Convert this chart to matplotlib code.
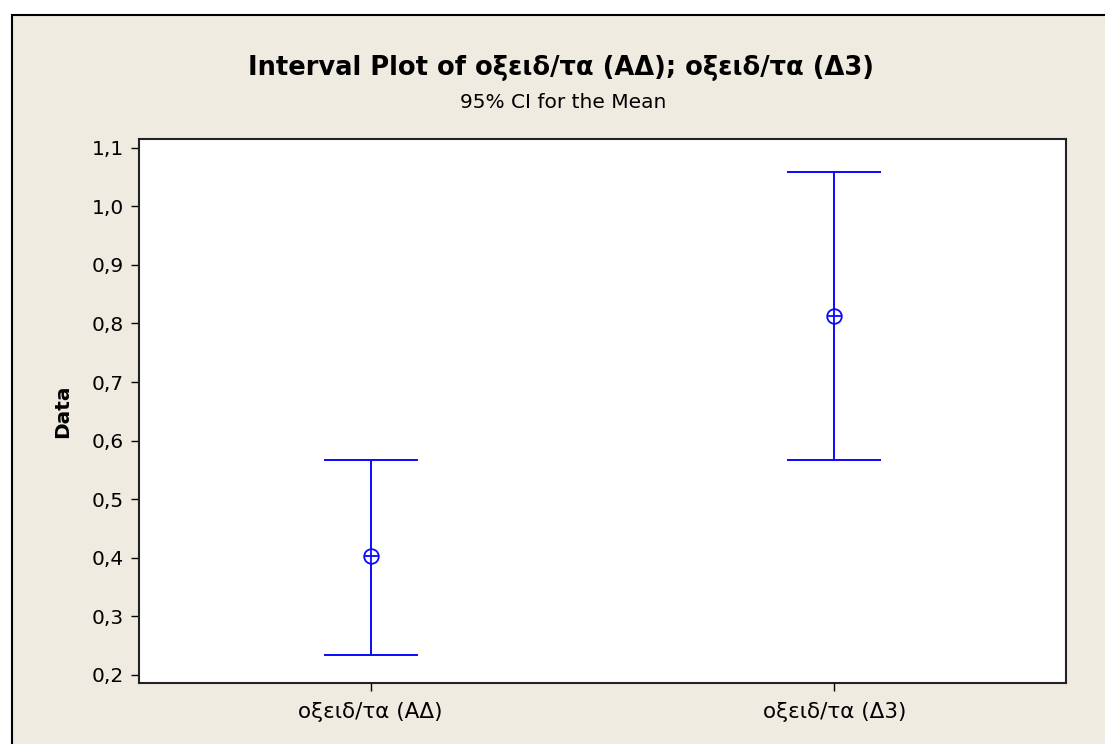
import matplotlib
matplotlib.use("Agg")
import matplotlib.pyplot as plt
from matplotlib.patches import Rectangle

categories = ["οξειδ/τα (ΑΔ)", "οξειδ/τα (Δ3)"]
means = [0.403, 0.813]
lower = [0.234, 0.567]
upper = [0.567, 1.059]

fig = plt.figure(figsize=(11.05, 7.44), dpi=100)
fig.patch.set_facecolor("white")
# grey panel with black frame at top/left (like the Minitab window)
panel = Rectangle((12 / 1105, -0.1), 1.2, (744 - 15) / 744 + 0.1,
                  transform=fig.transFigure, facecolor="#EFEBE1",
                  edgecolor="black", linewidth=1.5, zorder=-5)
fig.add_artist(panel)

ax = fig.add_axes([139 / 1105, 1 - 683 / 744, (1066 - 139) / 1105, (683 - 139) / 744])
ax.set_facecolor("white")

blue = "#0A0AFF"
pos = list(range(1, len(categories) + 1))
yerr = [[m - lo for m, lo in zip(means, lower)], [hi - m for m, hi in zip(means, upper)]]
ax.errorbar(pos, means, yerr=yerr, fmt="none", ecolor=blue, elinewidth=1.4,
            capsize=34, capthick=1.4)
ax.plot(pos, means, linestyle="none", marker="o", markersize=10.5, markerfacecolor="white",
        markeredgecolor=blue, markeredgewidth=1.3)
ax.plot(pos, means, linestyle="none", marker="+", markersize=10.5,
        markeredgecolor=blue, markeredgewidth=1.3)

ax.set_xlim(0.5, 2.5)
ax.set_ylim(0.186, 1.115)
ax.set_xticks(pos)
ax.set_xticklabels(categories)
yt = [0.2, 0.3, 0.4, 0.5, 0.6, 0.7, 0.8, 0.9, 1.0, 1.1]
ax.set_yticks(yt)
ax.set_yticklabels([f"{v:.1f}".replace(".", ",") for v in yt])
ax.tick_params(axis="both", direction="out", length=6, width=1, labelsize=14.5,
               colors="black", pad=5)
ax.tick_params(axis="x", labelsize=15.5, pad=8)
for s in ax.spines.values():
    s.set_linewidth(1.5)
    s.set_color("#222222")

ax.set_ylabel("Data", fontsize=14.5, fontweight="bold", labelpad=14)

fig.text(561 / 1105, 1 - 68 / 744, "Interval Plot of οξειδ/τα (ΑΔ); οξειδ/τα (Δ3)",
         ha="center", va="center", fontsize=18.5, fontweight="bold")
fig.text(563 / 1105, 1 - 103 / 744, "95% CI for the Mean", ha="center", va="center",
         fontsize=14.5)

fig.savefig("out.png", dpi=100)
